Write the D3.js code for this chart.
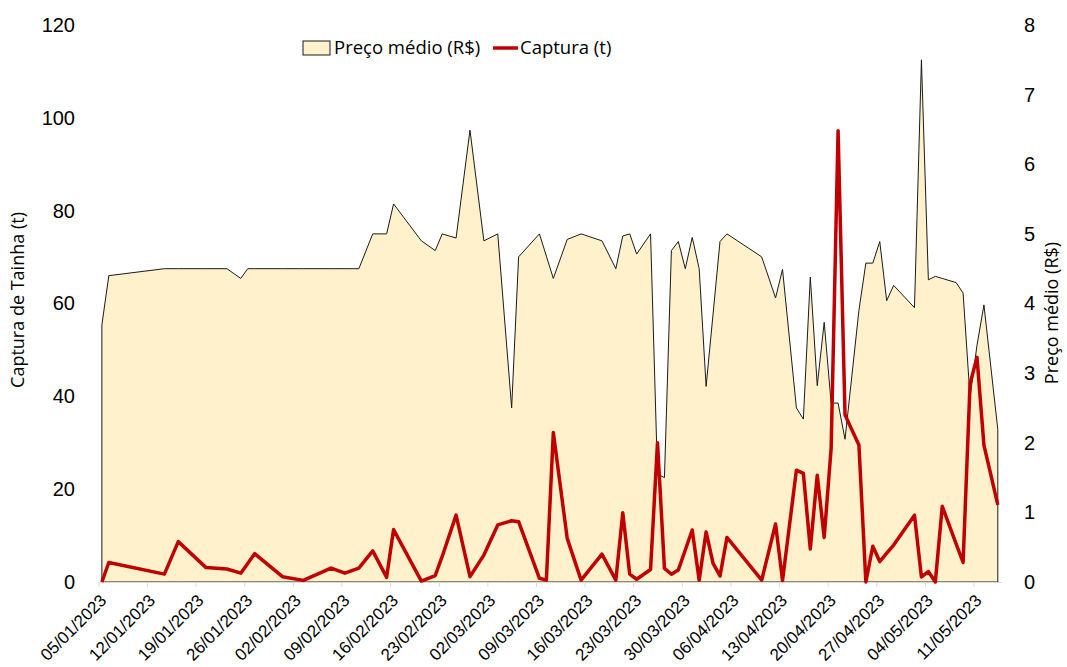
<!DOCTYPE html>
<html>
<head>
<meta charset="utf-8">
<script src="https://cdn.jsdelivr.net/npm/d3@7"></script>
<style>
  body { margin: 0; background: #fff; }
  svg { font-family: "Open Sans", sans-serif; }
</style>
</head>
<body>
<svg id="chart" width="1067" height="667"></svg>
<script>
// dates of landing records
var dates = [
  "2023-01-05", "2023-01-06", "2023-01-14", "2023-01-16", "2023-01-20", "2023-01-23", "2023-01-25",
  "2023-01-26", "2023-01-27", "2023-01-31", "2023-02-03", "2023-02-07", "2023-02-09", "2023-02-11",
  "2023-02-13", "2023-02-15", "2023-02-16", "2023-02-20", "2023-02-22", "2023-02-23", "2023-02-25",
  "2023-02-27", "2023-03-01", "2023-03-03", "2023-03-05", "2023-03-06", "2023-03-09", "2023-03-10",
  "2023-03-11", "2023-03-13", "2023-03-15", "2023-03-18", "2023-03-20", "2023-03-21", "2023-03-22",
  "2023-03-23", "2023-03-25", "2023-03-26", "2023-03-27", "2023-03-28", "2023-03-29", "2023-03-30",
  "2023-03-31", "2023-04-01", "2023-04-02", "2023-04-03", "2023-04-04", "2023-04-05", "2023-04-10",
  "2023-04-12", "2023-04-13", "2023-04-15", "2023-04-16", "2023-04-17", "2023-04-18", "2023-04-19",
  "2023-04-20", "2023-04-21", "2023-04-22", "2023-04-24", "2023-04-25", "2023-04-26", "2023-04-27",
  "2023-04-28", "2023-04-29", "2023-05-02", "2023-05-03", "2023-05-04", "2023-05-05", "2023-05-06",
  "2023-05-08", "2023-05-09", "2023-05-10", "2023-05-11", "2023-05-12", "2023-05-14"
];

// Captura de tainha (t), left axis
var captura = [
  0, 4.2, 1.7, 8.7, 3.1, 2.8, 1.9,
  4.0, 6.1, 1.15, 0.35, 3.0, 1.9, 3.0,
  6.7, 1.0, 11.3, 0.2, 1.4, 5.5, 14.4,
  1.15, 5.8, 12.3, 13.2, 13.0, 0.8, 0.4,
  32.2, 9.4, 0.4, 6.0, 0.4, 14.9, 1.7,
  0.6, 2.7, 30.0, 2.95, 1.66, 2.6, 6.9,
  11.2, 0.4, 10.8, 4.0, 1.3, 9.6, 0.4,
  12.5, 0.3, 24.1, 23.4, 7.1, 23.0, 9.6,
  28.8, 97.2, 36.0, 29.5, 0, 7.7, 4.4,
  6.2, 7.95, 14.4, 1.1, 2.25, 0, 16.3,
  8.2, 4.2, 42.7, 48.4, 29.5, 16.6
];

// Preço médio (R$), right axis
var preco = [
  3.69, 4.40, 4.50, 4.50, 4.50, 4.50, 4.36,
  4.50, 4.50, 4.50, 4.50, 4.50, 4.50, 4.50,
  5.00, 5.00, 5.43, 4.90, 4.76, 5.00, 4.94,
  6.49, 4.90, 5.00, 2.50, 4.67, 5.00, 4.68,
  4.36, 4.92, 5.00, 4.90, 4.50, 4.97, 5.00,
  4.71, 5.00, 1.55, 1.50, 4.76, 4.89, 4.50,
  4.95, 4.50, 2.81, 3.85, 4.89, 5.00, 4.67,
  4.08, 4.49, 2.50, 2.34, 4.38, 2.82, 3.73,
  2.57, 2.57, 2.05, 3.90, 4.58, 4.58, 4.89,
  4.04, 4.26, 3.94, 7.50, 4.34, 4.39, 4.36,
  4.30, 4.15, 2.65, 3.40, 3.98, 2.19
];

var leftTicks = [0, 20, 40, 60, 80, 100, 120];
var rightTicks = [0, 1, 2, 3, 4, 5, 6, 7, 8];

var parse = d3.utcParse("%Y-%m-%d");
var start = parse("2023-01-05"), end = parse("2023-05-15");

// each record sits in the middle of its day slot
var data = dates.map((d, i) => ({
  date: d3.utcHour.offset(parse(d), 12),
  captura: captura[i],
  preco: preco[i]
}));

var svg = d3.select("#chart");

var x = d3.scaleUtc().domain([start, end]).range([98.4, 1001.3]);
var yL = d3.scaleLinear().domain([0, 120]).range([582, 25]);
var yR = d3.scaleLinear().domain([0, 8]).range([582, 25]);

// price area
svg.append("path")
  .datum(data)
  .attr("fill", "#fff1cc")
  .attr("stroke", "#1a1a1a")
  .attr("stroke-width", 1)
  .attr("d", d3.area()
    .x(d => x(d.date))
    .y0(yR(0))
    .y1(d => yR(d.preco)));

// x axis
var xAxis = svg.append("g")
  .attr("transform", "translate(0," + yR(0) + ")")
  .call(d3.axisBottom(x)
    .tickValues(d3.utcDay.range(start, parse("2023-05-12"), 7))
    .tickFormat(d3.utcFormat("%d/%m/%Y"))
    .tickSize(5)
    .tickSizeOuter(0));
xAxis.select(".domain").attr("stroke", "#d9d9d9");
xAxis.selectAll(".tick line").attr("stroke", "#d9d9d9");
xAxis.selectAll(".tick text")
  .attr("font-size", 17)
  .attr("fill", "#000")
  .attr("text-anchor", "end")
  .attr("transform", "rotate(-45)")
  .attr("dx", "-0.45em")
  .attr("dy", "0.7em");

// catch line
svg.append("path")
  .datum(data)
  .attr("fill", "none")
  .attr("stroke", "#c00000")
  .attr("stroke-width", 3.5)
  .attr("stroke-linejoin", "round")
  .attr("d", d3.line()
    .x(d => x(d.date))
    .y(d => yL(d.captura)));

// left axis
var left = svg.append("g")
  .attr("transform", "translate(80,0)")
  .call(d3.axisLeft(yL).tickValues(leftTicks).tickSize(0).tickPadding(5));
left.select(".domain").remove();
left.selectAll("text").attr("font-size", 20).attr("fill", "#000");

// right axis
var right = svg.append("g")
  .attr("transform", "translate(1019,0)")
  .call(d3.axisRight(yR).tickValues(rightTicks).tickSize(0).tickPadding(5));
right.select(".domain").remove();
right.selectAll("text").attr("font-size", 20).attr("fill", "#000");

// axis titles
svg.append("text")
  .attr("transform", "translate(24,300) rotate(-90)")
  .attr("text-anchor", "middle")
  .attr("font-size", 18)
  .text("Captura de Tainha (t)");

svg.append("text")
  .attr("transform", "translate(1058,313) rotate(-90)")
  .attr("text-anchor", "middle")
  .attr("font-size", 18)
  .text("Preço médio (R$)");

// legend
var legend = svg.append("g").attr("transform", "translate(303,48)");
legend.append("rect")
  .attr("x", 0).attr("y", -7)
  .attr("width", 27).attr("height", 14)
  .attr("fill", "#fff1cc")
  .attr("stroke", "#1a1a1a");
legend.append("text")
  .attr("x", 31).attr("y", 6)
  .attr("font-size", 18.5)
  .text("Preço médio (R$)");
legend.append("line")
  .attr("x1", 190).attr("x2", 215)
  .attr("y1", 0).attr("y2", 0)
  .attr("stroke", "#c00000")
  .attr("stroke-width", 3.5);
legend.append("text")
  .attr("x", 217).attr("y", 6)
  .attr("font-size", 18.5)
  .text("Captura (t)");
</script>
</body>
</html>
